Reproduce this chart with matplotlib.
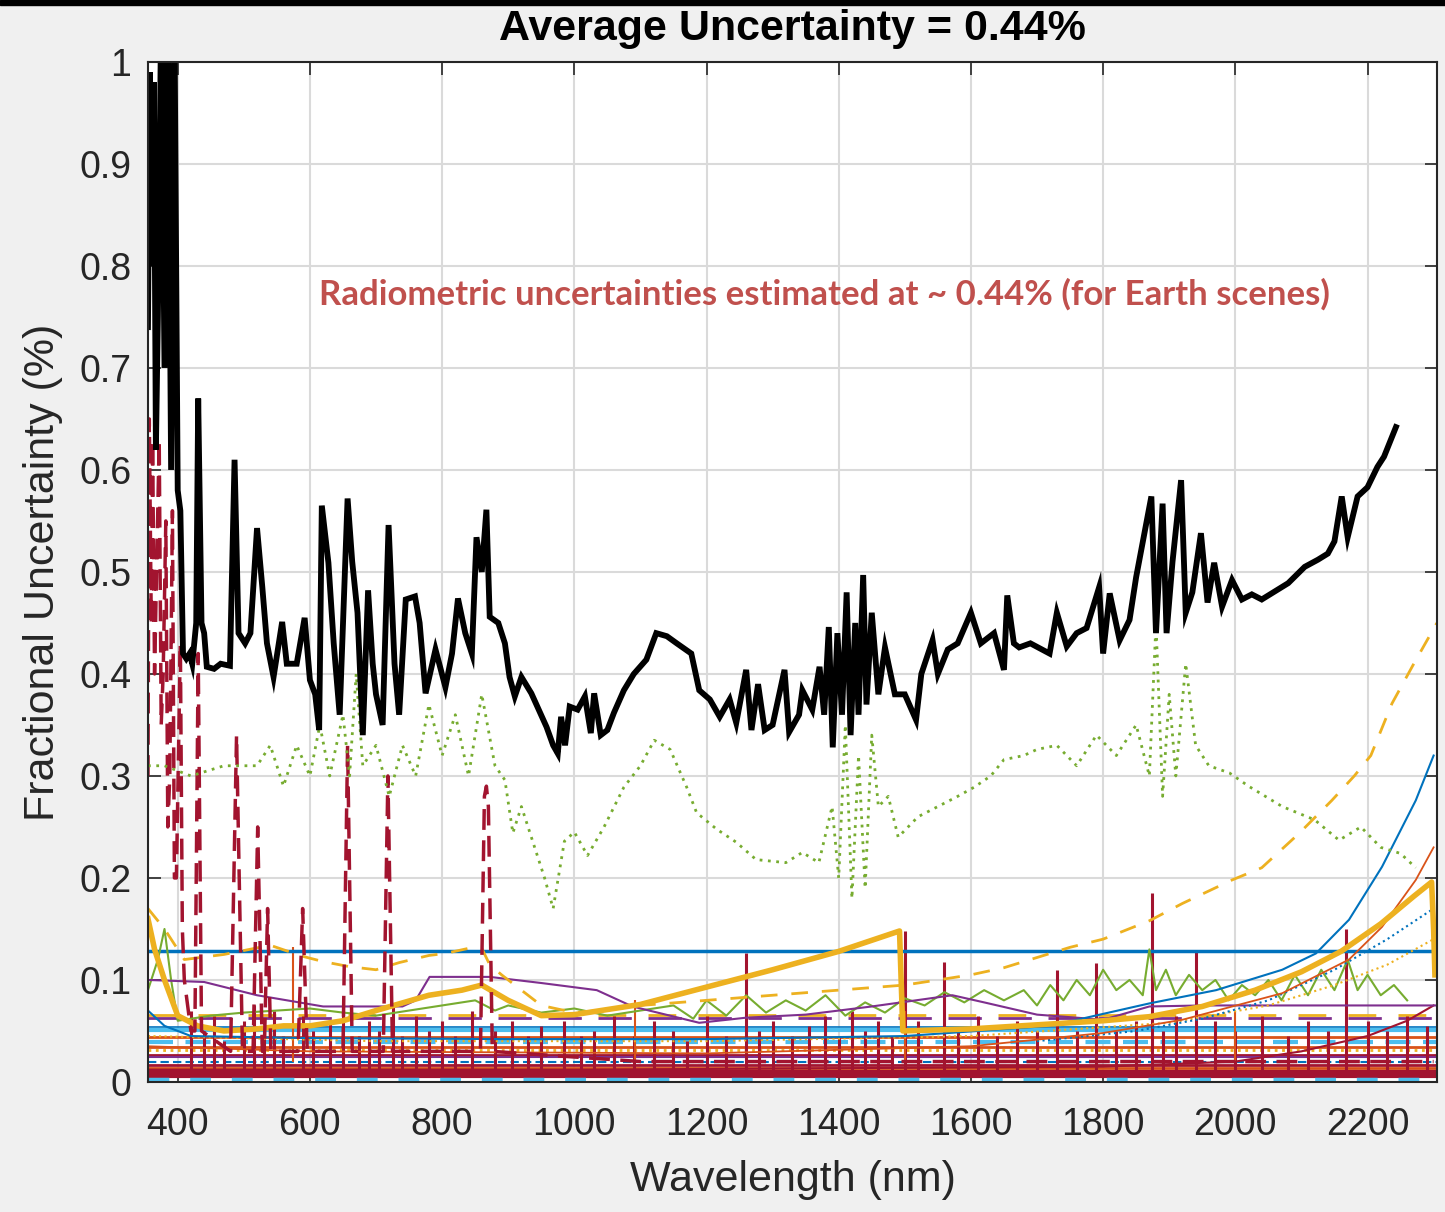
import matplotlib.pyplot as plt
from matplotlib.patches import Rectangle

# MATLAB default line colours
BLUE = '#0072BD'
ORANGE = '#D95319'
YELLOW = '#EDB120'
PURPLE = '#7E2F8E'
GREEN = '#77AC30'
CYAN = '#4DBEEE'
DARKRED = '#A2142F'

# total radiometric uncertainty (black)
total_wl = [355, 358, 361, 364, 367, 370, 375, 380, 385, 390, 395, 400, 404, 408, 413, 418,
            422, 428, 431, 436, 440, 444, 455, 465, 479, 486, 492, 502, 510, 520, 528, 535,
            545, 558, 565, 580, 592, 600, 608, 614, 618, 628, 636, 645, 657, 664, 672, 680,
            688, 695, 700, 710, 719, 728, 735, 745, 759, 766, 775, 790, 805, 815, 824, 835,
            845, 852, 860, 867, 872, 885, 895, 902, 910, 920, 935, 958, 968, 975, 980, 986,
            993, 1005, 1016, 1025, 1030, 1040, 1050, 1060, 1075, 1090, 1109, 1124, 1140, 1155,
            1177, 1189, 1205, 1220, 1235, 1245, 1260, 1268, 1278, 1288, 1300, 1318, 1325, 1340,
            1345, 1360, 1371, 1378, 1385, 1391, 1398, 1405, 1412, 1418, 1425, 1430, 1437, 1442,
            1450, 1460, 1470, 1485, 1500, 1517, 1525, 1542, 1550, 1565, 1580, 1600, 1615, 1635,
            1650, 1655, 1665, 1673, 1690, 1719, 1730, 1745, 1760, 1775, 1794, 1800, 1810, 1825,
            1840, 1850, 1873, 1880, 1890, 1896, 1905, 1918, 1925, 1935, 1948, 1958, 1968, 1980,
            1995, 2010, 2025, 2040, 2055, 2080, 2105, 2125, 2140, 2150, 2161, 2170, 2185, 2200,
            2215, 2225, 2243]
total_val = [0.74, 0.99, 0.80, 0.98, 0.62, 0.75, 1.05, 0.70, 1.05, 0.60, 1.05, 0.58, 0.56, 0.42,
             0.415, 0.42, 0.41, 0.45, 0.67, 0.45, 0.44, 0.407, 0.405, 0.41, 0.408, 0.61, 0.44,
             0.43, 0.44, 0.543, 0.485, 0.43, 0.397, 0.451, 0.41, 0.41, 0.455, 0.394, 0.38, 0.345,
             0.565, 0.509, 0.43, 0.36, 0.572, 0.51, 0.46, 0.34, 0.482, 0.41, 0.38, 0.35, 0.546,
             0.41, 0.36, 0.473, 0.476, 0.45, 0.381, 0.424, 0.387, 0.42, 0.474, 0.44, 0.42, 0.534,
             0.50, 0.561, 0.456, 0.45, 0.43, 0.397, 0.378, 0.397, 0.381, 0.348, 0.33, 0.322,
             0.358, 0.33, 0.368, 0.365, 0.378, 0.342, 0.381, 0.34, 0.345, 0.362, 0.384, 0.40,
             0.414, 0.44, 0.437, 0.43, 0.42, 0.384, 0.375, 0.358, 0.375, 0.352, 0.404, 0.345,
             0.39, 0.345, 0.35, 0.404, 0.343, 0.36, 0.384, 0.365, 0.407, 0.36, 0.446, 0.328,
             0.44, 0.36, 0.48, 0.34, 0.45, 0.36, 0.497, 0.37, 0.46, 0.38, 0.426, 0.38, 0.38,
             0.355, 0.40, 0.433, 0.40, 0.424, 0.43, 0.46, 0.43, 0.44, 0.404, 0.477, 0.43, 0.426,
             0.43, 0.42, 0.46, 0.427, 0.44, 0.445, 0.485, 0.42, 0.479, 0.433, 0.453, 0.495,
             0.574, 0.44, 0.567, 0.44, 0.51, 0.59, 0.46, 0.48, 0.538, 0.47, 0.509, 0.466, 0.492,
             0.473, 0.478, 0.473, 0.479, 0.489, 0.505, 0.512, 0.518, 0.53, 0.574, 0.534, 0.574,
             0.583, 0.603, 0.613, 0.642]

# dominant component (green dotted)
dom_wl = [355, 380, 420, 470, 520, 540, 560, 580, 600, 615, 630, 650, 660, 670, 680, 700, 720,
          740, 760, 780, 800, 820, 840, 860, 880, 895, 907, 920, 940, 955, 968, 985, 1000, 1020,
          1045, 1075, 1100, 1121, 1145, 1170, 1185, 1215, 1245, 1275, 1320, 1345, 1370, 1390,
          1400, 1410, 1420, 1430, 1440, 1450, 1460, 1475, 1490, 1520, 1550, 1580, 1605, 1630,
          1650, 1680, 1700, 1730, 1760, 1790, 1820, 1850, 1870, 1880, 1890, 1900, 1910, 1925,
          1940, 1960, 1991, 2020, 2071, 2120, 2157, 2190, 2220, 2250, 2273]
dom_val = [0.31, 0.31, 0.30, 0.31, 0.31, 0.33, 0.29, 0.33, 0.30, 0.35, 0.30, 0.36, 0.30, 0.40,
           0.31, 0.33, 0.28, 0.33, 0.30, 0.37, 0.32, 0.36, 0.30, 0.38, 0.31, 0.296, 0.244, 0.27,
           0.23, 0.20, 0.17, 0.236, 0.245, 0.222, 0.25, 0.289, 0.31, 0.335, 0.326, 0.289, 0.264,
           0.248, 0.235, 0.218, 0.215, 0.225, 0.215, 0.27, 0.20, 0.35, 0.18, 0.32, 0.19, 0.34,
           0.27, 0.28, 0.24, 0.26, 0.27, 0.28, 0.289, 0.30, 0.316, 0.32, 0.326, 0.33, 0.31, 0.34,
           0.32, 0.35, 0.30, 0.45, 0.28, 0.38, 0.30, 0.41, 0.33, 0.31, 0.303, 0.29, 0.27, 0.257,
           0.237, 0.25, 0.23, 0.224, 0.21]

# absorption-band component (dark red dashed)
band_wl = [355, 357, 360, 362, 365, 368, 372, 375, 378, 382, 385, 388, 392, 395, 398, 404, 407,
           410, 420, 426, 431, 436, 480, 489, 498, 514, 521, 528, 531, 536, 541, 582, 589, 596,
           650, 657, 664, 711, 718, 725, 858, 864, 867, 870, 876, 1100, 2300]
band_val = [0.30, 0.65, 0.45, 0.63, 0.40, 0.50, 0.63, 0.35, 0.40, 0.55, 0.25, 0.30, 0.56, 0.20,
            0.20, 0.43, 0.15, 0.10, 0.05, 0.05, 0.42, 0.05, 0.03, 0.34, 0.03, 0.03, 0.25, 0.03,
            0.03, 0.17, 0.03, 0.03, 0.17, 0.03, 0.03, 0.33, 0.03, 0.03, 0.30, 0.03, 0.03, 0.28,
            0.29, 0.27, 0.03, 0.02, 0.02]

# flat calibration term (blue)
flat_wl = [355, 2305]
flat_val = [0.128, 0.128]

# yellow dashed curve
ydash_wl = [355, 380, 410, 470, 540, 590, 620, 660, 700, 735, 780, 805, 840, 860, 872, 890,
            920, 950, 1000, 1040, 1100, 1200, 1300, 1400, 1500, 1600, 1650, 1700, 1750, 1800,
            1870, 1920, 1995, 2040, 2097, 2146, 2180, 2205, 2237, 2270, 2305]
ydash_val = [0.17, 0.15, 0.12, 0.125, 0.134, 0.123, 0.118, 0.113, 0.11, 0.117, 0.124, 0.126,
             0.131, 0.131, 0.115, 0.105, 0.09, 0.075, 0.068, 0.07, 0.075, 0.08, 0.085, 0.09,
             0.095, 0.105, 0.112, 0.122, 0.132, 0.14, 0.158, 0.175, 0.198, 0.21, 0.244, 0.276,
             0.30, 0.32, 0.371, 0.41, 0.45]

# yellow thick ramp (detector term)
yramp_wl = [355, 365, 380, 400, 430, 470, 520, 560, 600, 650, 700, 780, 830, 860, 900, 950,
            1000, 1050, 1100, 1200, 1300, 1400, 1492, 1497, 1600, 1700, 1800, 1870, 1950, 2030,
            2100, 2160, 2220, 2270, 2297, 2300, 2302]
yramp_val = [0.16, 0.13, 0.10, 0.065, 0.055, 0.05, 0.052, 0.055, 0.055, 0.06, 0.07, 0.085,
             0.09, 0.095, 0.08, 0.065, 0.066, 0.071, 0.076, 0.093, 0.11, 0.128, 0.148, 0.05,
             0.052, 0.056, 0.06, 0.064, 0.074, 0.09, 0.108, 0.128, 0.155, 0.182, 0.196, 0.15,
             0.105]

# purple solid
purp_wl = [355, 440, 520, 620, 700, 740, 760, 781, 872, 950, 1034, 1088, 1189, 1260, 1350,
           1450, 1572, 1620, 1700, 1800, 1870, 1950, 2100, 2305]
purp_val = [0.10, 0.098, 0.085, 0.074, 0.074, 0.074, 0.08, 0.103, 0.103, 0.097, 0.09, 0.074,
            0.058, 0.063, 0.066, 0.074, 0.085, 0.078, 0.066, 0.061, 0.074, 0.075, 0.075, 0.075]

# blue and orange rising curves (SWIR detector terms)
bcurve_wl = [355, 380, 420, 600, 900, 1200, 1500, 1720, 1870, 1971, 2071, 2122, 2172, 2222,
             2273, 2300]
bcurve_val = [0.07, 0.055, 0.045, 0.043, 0.042, 0.042, 0.045, 0.055, 0.077, 0.09, 0.11, 0.126,
              0.159, 0.211, 0.276, 0.32]
ocurve_wl = [355, 600, 1200, 1600, 1800, 1920, 2071, 2172, 2222, 2273, 2300]
ocurve_val = [0.035, 0.03, 0.028, 0.035, 0.048, 0.061, 0.087, 0.12, 0.152, 0.198, 0.23]
bdot_wl = [1700, 1850, 1950, 2050, 2150, 2230, 2300]
bdot_val = [0.04, 0.05, 0.062, 0.08, 0.11, 0.14, 0.17]
ydot_wl = [355, 700, 1200, 1600, 1900, 2050, 2150, 2230, 2300]
ydot_val = [0.045, 0.04, 0.04, 0.045, 0.058, 0.075, 0.095, 0.115, 0.14]

# green noisy term
gsol_wl = [355, 370, 380, 390, 400, 450, 500, 550, 600, 650, 700, 750, 800, 850, 880, 900, 950,
           1000, 1050, 1100, 1150, 1180, 1200, 1230, 1260, 1290, 1320, 1350, 1380, 1410, 1440,
           1470, 1500, 1530, 1560, 1590, 1620, 1650, 1680, 1700, 1720, 1740, 1760, 1780, 1800,
           1820, 1840, 1860, 1870, 1880, 1895, 1910, 1930, 1950, 1970, 1990, 2010, 2030, 2050,
           2070, 2090, 2110, 2130, 2150, 2170, 2185, 2200, 2220, 2240, 2260]
gsol_val = [0.09, 0.12, 0.15, 0.10, 0.06, 0.065, 0.068, 0.07, 0.072, 0.068, 0.065, 0.07, 0.075,
            0.08, 0.07, 0.075, 0.068, 0.072, 0.065, 0.07, 0.075, 0.062, 0.08, 0.065, 0.085,
            0.068, 0.08, 0.07, 0.085, 0.065, 0.078, 0.068, 0.082, 0.075, 0.088, 0.078, 0.09,
            0.08, 0.09, 0.075, 0.095, 0.08, 0.10, 0.085, 0.11, 0.09, 0.10, 0.085, 0.13, 0.09,
            0.11, 0.085, 0.105, 0.09, 0.10, 0.08, 0.095, 0.085, 0.10, 0.08, 0.105, 0.085, 0.11,
            0.09, 0.12, 0.09, 0.105, 0.085, 0.095, 0.08]

# dark red rising tail
rtail_wl = [355, 1000, 1800, 2000, 2100, 2200, 2260, 2300]
rtail_val = [0.012, 0.012, 0.015, 0.02, 0.03, 0.045, 0.06, 0.075]

# low-level terms: level, colour, width, style
floor_levels = [0.063, 0.066, 0.054, 0.051, 0.044, 0.039, 0.034, 0.031, 0.026, 0.024, 0.020,
                0.017, 0.014, 0.010, 0.006, 0.003]
floor_colors = [PURPLE, YELLOW, BLUE, CYAN, ORANGE, CYAN, ORANGE, YELLOW, DARKRED, PURPLE, BLUE,
                DARKRED, ORANGE, DARKRED, DARKRED, CYAN]
floor_widths = [2.0, 2.0, 1.2, 3.0, 2.0, 3.0, 2.0, 2.0, 2.0, 1.5, 1.5, 2.0, 2.0, 3.0, 3.0, 2.5]
floor_styles = [(0, (12, 6)), (0, (10, 8)), '-', '-', '-', (0, (6, 3)), '-', ':', '-', '-',
                (0, (4, 2)), '-', '-', '-', '-', (0, (6, 6))]

# narrow line residuals (dark red and orange spikes)
spike_wl = [420, 440, 455, 470, 500, 515, 530, 545, 560, 590, 605, 630, 650, 675, 690, 705,
            725, 740, 760, 780, 800, 820, 845, 880, 905, 930, 950, 985, 1010, 1030, 1060, 1090,
            1120, 1150, 1170, 1200, 1230, 1260, 1280, 1300, 1330, 1355, 1380, 1400, 1420, 1440,
            1460, 1480, 1500, 1520, 1560, 1580, 1610, 1640, 1670, 1700, 1730, 1760, 1790, 1820,
            1850, 1874, 1890, 1910, 1940, 1970, 2000, 2040, 2080, 2110, 2140, 2167, 2200, 2230,
            2260, 2290]
spike_top = [0.07, 0.05, 0.065, 0.04, 0.06, 0.075, 0.05, 0.07, 0.045, 0.065, 0.05, 0.06, 0.07,
             0.045, 0.06, 0.05, 0.075, 0.045, 0.065, 0.05, 0.06, 0.045, 0.07, 0.05, 0.06, 0.045,
             0.055, 0.06, 0.045, 0.05, 0.065, 0.045, 0.06, 0.05, 0.04, 0.065, 0.045, 0.126,
             0.05, 0.06, 0.045, 0.055, 0.065, 0.045, 0.07, 0.05, 0.06, 0.045, 0.148, 0.06, 0.118,
             0.05, 0.065, 0.045, 0.06, 0.05, 0.11, 0.05, 0.117, 0.05, 0.06, 0.185, 0.05, 0.065,
             0.129, 0.06, 0.05, 0.065, 0.045, 0.06, 0.05, 0.15, 0.06, 0.05, 0.065, 0.055]
ospike_wl = [575, 1092, 1500, 2000]
ospike_top = [0.132, 0.08, 0.07, 0.07]

xticks = [400, 600, 800, 1000, 1200, 1400, 1600, 1800, 2000, 2200]
yticks = [0, 0.1, 0.2, 0.3, 0.4, 0.5, 0.6, 0.7, 0.8, 0.9, 1]
ytick_labels = ['0', '0.1', '0.2', '0.3', '0.4', '0.5', '0.6', '0.7', '0.8', '0.9', '1']

plt.rcParams['font.family'] = ['Liberation Sans', 'DejaVu Sans']

fig = plt.figure(figsize=(14.45, 12.12), dpi=100, facecolor='#F0F0F0')
ax = fig.add_axes([0.1024, 0.1073, 0.892, 0.8416])
ax.set_facecolor('white')
fig.patches.append(Rectangle((0, 1 - 5 / 1212), 1, 5 / 1212, transform=fig.transFigure,
                             color='black', zorder=10))

# low-level terms first
for lvl, c, w, s in zip(floor_levels, floor_colors, floor_widths, floor_styles):
    ax.plot([355, 2305], [lvl, lvl], color=c, lw=w, ls=s)
ax.vlines(spike_wl, 0.008, spike_top, color=DARKRED, lw=2.2)
ax.vlines(ospike_wl, 0.02, ospike_top, color=ORANGE, lw=1.5)
ax.plot(rtail_wl, rtail_val, color=DARKRED, lw=1.5)

ax.plot(flat_wl, flat_val, color=BLUE, lw=2.5)
ax.plot(gsol_wl, gsol_val, color=GREEN, lw=1.5)
ax.plot(purp_wl, purp_val, color=PURPLE, lw=1.5)
ax.plot(ydot_wl, ydot_val, color=YELLOW, lw=1.5, ls=':')
ax.plot(bdot_wl, bdot_val, color=BLUE, lw=1.5, ls=':')
ax.plot(ocurve_wl, ocurve_val, color=ORANGE, lw=1.3)
ax.plot(bcurve_wl, bcurve_val, color=BLUE, lw=1.5)
ax.plot(yramp_wl, yramp_val, color=YELLOW, lw=4)
ax.plot(ydash_wl, ydash_val, color=YELLOW, lw=2, ls=(0, (6, 5)))
ax.plot(band_wl, band_val, color=DARKRED, lw=2.5, ls=(0, (6, 3)))
ax.plot(dom_wl, dom_val, color=GREEN, lw=2, ls=(0, (1, 2)))
ax.plot(total_wl, total_val, color='black', lw=4.2, solid_joinstyle='miter')

ax.set_xlim(355, 2305)
ax.set_ylim(0, 1)
ax.set_xticks(xticks)
ax.set_yticks(yticks)
ax.set_yticklabels(ytick_labels)
ax.tick_params(direction='in', length=9, width=1.2, top=True, right=True, labelsize=27,
               colors='#262626')
ax.tick_params(axis='x', pad=18)
ax.tick_params(axis='y', pad=12)
ax.grid(True, color='#DADADA', lw=1.5)
ax.set_axisbelow(True)
for sp in ax.spines.values():
    sp.set_color('#262626')
    sp.set_linewidth(1.5)

ax.set_xlabel('Wavelength (nm)', fontsize=31, color='#262626', labelpad=12)
ax.set_ylabel('Fractional Uncertainty (%)', fontsize=31, color='#262626', labelpad=12)
ax.set_title('Average Uncertainty = 0.44%', fontsize=31, fontweight='bold', color='black',
             pad=16)

ax.text(1378, 0.772, 'Radiometric uncertainties estimated at ~ 0.44% (for Earth scenes)',
        fontsize=25, fontweight='bold', color='#C0504D', ha='center', va='center',
        family=['Lato', 'DejaVu Sans'])

fig.savefig('out.png', dpi=100, facecolor=fig.get_facecolor())
